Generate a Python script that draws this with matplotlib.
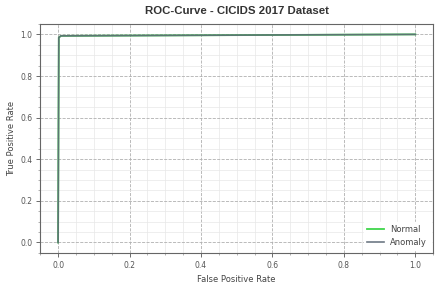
import matplotlib
matplotlib.use("Agg")
import matplotlib.pyplot as plt
from matplotlib.ticker import AutoMinorLocator

# ROC points
normal_fpr = [0.0, 0.002, 0.008, 1.0]
normal_tpr = [0.0, 0.985, 0.993, 1.0]
anomaly_fpr = [0.0, 0.002, 0.008, 1.0]
anomaly_tpr = [0.0, 0.985, 0.993, 1.0]

fig, ax = plt.subplots(figsize=(4.47, 2.89), dpi=100)
fig.subplots_adjust(left=0.09, right=0.969, top=0.917, bottom=0.125)

ax.plot(normal_fpr, normal_tpr, color="#3fd64b", lw=1.3, label="Normal")
ax.plot(anomaly_fpr, anomaly_tpr, color="#5f6b78", lw=1.2, alpha=0.9, label="Anomaly")

ax.xaxis.set_minor_locator(AutoMinorLocator())
ax.yaxis.set_minor_locator(AutoMinorLocator())
ax.grid(which="major", color="#b0b0b0", linestyle="--", linewidth=0.6)
ax.grid(which="minor", color="#e8e8e8", linestyle="-", linewidth=0.5)
ax.set_axisbelow(True)
for s in ax.spines.values():
    s.set_color("#666666")
    s.set_linewidth(0.8)
ax.tick_params(labelsize=5.5, colors="#555555", length=3, width=0.6, pad=2.5)
ax.tick_params(which="minor", length=1.5, width=0.4, colors="#777777")

ax.set_title("ROC-Curve - CICIDS 2017 Dataset", fontsize=8.2, fontweight="bold",
             family="Liberation Sans", color="#333333", pad=7)
ax.set_xlabel("False Positive Rate", fontsize=6, color="#444444", labelpad=4)
ax.set_ylabel("True Positive Rate", fontsize=6, color="#444444", labelpad=3)
leg = ax.legend(loc="lower right", fontsize=6, frameon=True, fancybox=False,
                edgecolor="white", framealpha=1, borderaxespad=0.3)
for t in leg.get_texts():
    t.set_color("#444444")

plt.savefig("out.png", dpi=100)
